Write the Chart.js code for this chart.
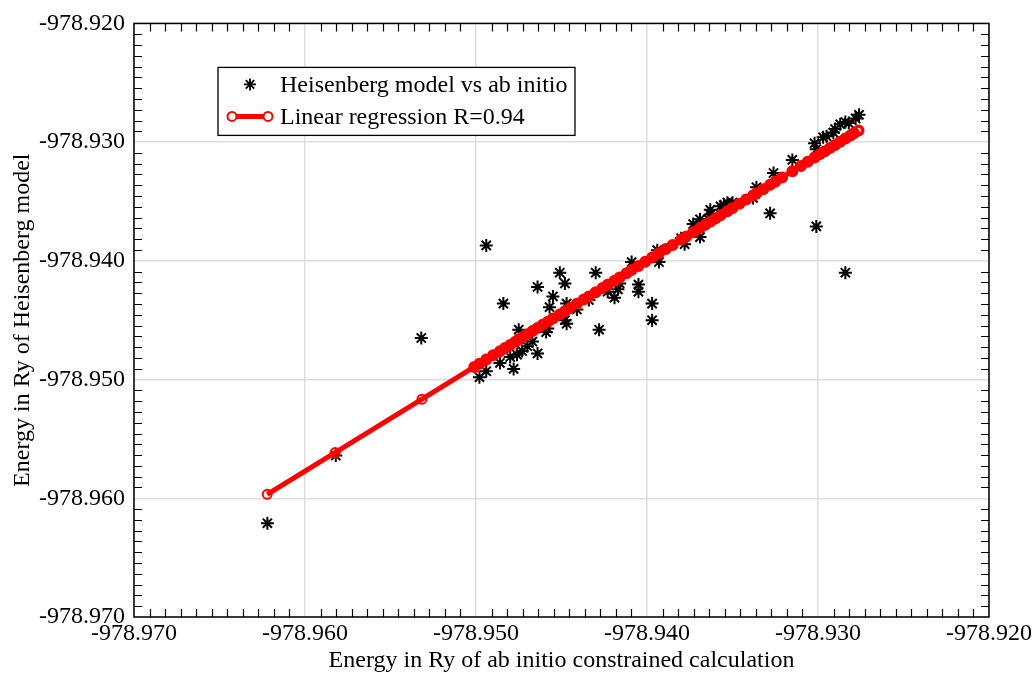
<!DOCTYPE html>
<html><head><meta charset="utf-8">
<script src="https://cdn.jsdelivr.net/npm/chart.js@4.4.1/dist/chart.umd.min.js"></script>
<style>html,body{margin:0;padding:0;background:#fff}#wrap{width:1035px;height:673px;position:relative}</style>
</head><body><div id="wrap"><canvas id="c" width="1035" height="673"></canvas></div>
<script>
// ---- data ----
const abInitio = [-978.9622,-978.9582,-978.9532,-978.9498,-978.9494,-978.9486,-978.9478,-978.9480,-978.9476,-978.9475,-978.9473,-978.9470,-978.9467,-978.9464,-978.9484,-978.9494,-978.9464,-978.9459,-978.9458,-978.9457,-978.9455,-978.9451,-978.9448,-978.9448,-978.9447,-978.9447,-978.9441,-978.9434,-978.9430,-978.9428,-978.9423,-978.9419,-978.9417,-978.9416,-978.9409,-978.9405,-978.9405,-978.9397,-978.9397,-978.9393,-978.9394,-978.9380,-978.9378,-978.9373,-978.9369,-978.9369,-978.9363,-978.9363,-978.9364,-978.9357,-978.9353,-978.9350,-978.9336,-978.9338,-978.9326,-978.9328,-978.9315,-978.9301,-978.9284,-978.9302,-978.9301,-978.9297,-978.9295,-978.9291,-978.9290,-978.9287,-978.9284,-978.9282,-978.9276,-978.9278,-978.9355];
const heisenberg = [-978.9621,-978.9564,-978.9465,-978.9498,-978.9493,-978.9486,-978.9491,-978.9481,-978.9479,-978.9458,-978.9476,-978.9472,-978.9468,-978.9478,-978.9436,-978.9387,-978.9422,-978.9460,-978.9457,-978.9439,-978.9430,-978.9410,-978.9419,-978.9450,-978.9436,-978.9453,-978.9441,-978.9433,-978.9410,-978.9458,-978.9426,-978.9431,-978.9424,-978.9419,-978.9401,-978.9420,-978.9426,-978.9436,-978.9450,-978.9401,-978.9391,-978.9381,-978.9386,-978.9369,-978.9380,-978.9365,-978.9357,-978.9361,-978.9365,-978.9354,-978.9351,-978.9351,-978.9338,-978.9347,-978.9326,-978.9360,-978.9315,-978.9371,-978.9410,-978.9301,-978.9306,-978.9296,-978.9295,-978.9292,-978.9289,-978.9285,-978.9283,-978.9284,-978.9277,-978.9280,-978.9353];
const fitX = [-978.96221,-978.95824,-978.95316,-978.9501,-978.9498,-978.9494,-978.9490,-978.9486,-978.9483,-978.9480,-978.9477,-978.9475,-978.9473,-978.9470,-978.9467,-978.9464,-978.9461,-978.9458,-978.9455,-978.9451,-978.9448,-978.9445,-978.9441,-978.9437,-978.9434,-978.9430,-978.9426,-978.9423,-978.9419,-978.9416,-978.9412,-978.9409,-978.9405,-978.9401,-978.9397,-978.9393,-978.9389,-978.9385,-978.9380,-978.9377,-978.9373,-978.9369,-978.9366,-978.9363,-978.9360,-978.9357,-978.9353,-978.9350,-978.9346,-978.9342,-978.9338,-978.9336,-978.9332,-978.9328,-978.9325,-978.9321,-978.9315,-978.9310,-978.9306,-978.9302,-978.9299,-978.9296,-978.9293,-978.9290,-978.9287,-978.9284,-978.9281,-978.9279,-978.92763];
const fitY = [-978.95967,-978.95615,-978.95165,-978.94894,-978.94867,-978.94832,-978.94796,-978.94761,-978.94734,-978.94708,-978.94681,-978.94663,-978.94646,-978.94619,-978.94592,-978.94566,-978.94539,-978.94513,-978.94486,-978.94451,-978.94424,-978.94397,-978.94362,-978.94326,-978.94300,-978.94264,-978.94229,-978.94202,-978.94167,-978.94140,-978.94105,-978.94078,-978.94043,-978.94007,-978.93972,-978.93937,-978.93901,-978.93866,-978.93821,-978.93795,-978.93759,-978.93724,-978.93697,-978.93671,-978.93644,-978.93617,-978.93582,-978.93555,-978.93520,-978.93484,-978.93449,-978.93431,-978.93396,-978.93360,-978.93334,-978.93298,-978.93245,-978.93201,-978.93165,-978.93130,-978.93103,-978.93077,-978.93050,-978.93024,-978.92997,-978.92970,-978.92944,-978.92926,-978.92902];
const xTicks = [-978.970,-978.960,-978.950,-978.940,-978.930,-978.920];
const yTicks = [-978.970,-978.960,-978.950,-978.940,-978.930,-978.920];
const seriesNames = ['Heisenberg model vs ab initio','Linear regression R=0.94'];
const xTitle = 'Energy in Ry of ab initio constrained calculation';
const yTitle = 'Energy in Ry of Heisenberg model';

// ---- styling ----
const FONT = 'Liberation Serif, Times New Roman, serif';
const RED = '#ff0000';
const MINOR = 11; // intervals between major ticks

const framePlugin = {
  id: 'frame',
  afterDraw(chart) {
    const ctx = chart.ctx, ca = chart.chartArea;
    const xs = chart.scales.x, ys = chart.scales.y;
    ctx.save();
    ctx.strokeStyle = '#000';
    ctx.lineWidth = 1.2;
    const L = 8;
    ctx.beginPath();
    for (let i = 0; i < xTicks.length - 1; i++) {
      const step = (xTicks[i+1] - xTicks[i]) / MINOR;
      for (let k = 1; k < MINOR; k++) {
        const px = Math.round(xs.getPixelForValue(xTicks[i] + k * step)) + 0.5;
        ctx.moveTo(px, ca.bottom); ctx.lineTo(px, ca.bottom - L);
        ctx.moveTo(px, ca.top); ctx.lineTo(px, ca.top + L);
      }
    }
    for (let i = 0; i < yTicks.length - 1; i++) {
      const step = (yTicks[i+1] - yTicks[i]) / MINOR;
      for (let k = 1; k < MINOR; k++) {
        const py = Math.round(ys.getPixelForValue(yTicks[i] + k * step)) + 0.5;
        ctx.moveTo(ca.left, py); ctx.lineTo(ca.left + L, py);
        ctx.moveTo(ca.right, py); ctx.lineTo(ca.right - L, py);
      }
    }
    ctx.stroke();
    ctx.lineWidth = 1.5;
    ctx.strokeRect(ca.left, ca.top, ca.right - ca.left, ca.bottom - ca.top);

    // legend box
    const bx = ca.left + 84, by = ca.top + 44, bw = 357, bh = 68;
    ctx.fillStyle = '#fff';
    ctx.fillRect(bx, by, bw, bh);
    ctx.lineWidth = 1.3;
    ctx.strokeStyle = '#000';
    ctx.strokeRect(bx, by, bw, bh);
    const r1 = by + 17, r2 = by + 49;
    // star sample
    const sx = bx + 32, sr = 6;
    ctx.beginPath();
    ctx.lineWidth = 1.8;
    ctx.moveTo(sx - sr, r1); ctx.lineTo(sx + sr, r1);
    ctx.moveTo(sx, r1 - sr); ctx.lineTo(sx, r1 + sr);
    const d = sr * Math.SQRT1_2;
    ctx.moveTo(sx - d, r1 - d); ctx.lineTo(sx + d, r1 + d);
    ctx.moveTo(sx - d, r1 + d); ctx.lineTo(sx + d, r1 - d);
    ctx.stroke();
    // line sample
    const l0 = bx + 14, l1 = bx + 50;
    ctx.strokeStyle = RED;
    ctx.lineWidth = 5;
    ctx.beginPath(); ctx.moveTo(l0, r2); ctx.lineTo(l1, r2); ctx.stroke();
    ctx.lineWidth = 2;
    ctx.fillStyle = '#fff';
    [l0, l1].forEach(cx => { ctx.beginPath(); ctx.arc(cx, r2, 4.5, 0, Math.PI * 2); ctx.fill(); ctx.stroke(); });
    ctx.fillStyle = '#000';
    ctx.font = '24px ' + FONT;
    ctx.textAlign = 'left';
    ctx.textBaseline = 'middle';
    ctx.fillText(seriesNames[0], bx + 62, r1 + 1);
    ctx.fillText(seriesNames[1], bx + 62, r2 + 1);
    ctx.restore();
  }
};

const scatterPts = abInitio.map((x, i) => ({x, y: heisenberg[i]}));
const fitPts = fitX.map((x, i) => ({x, y: fitY[i]}));

const tickFont = {family: FONT, size: 24};

new Chart(document.getElementById('c'), {
  type: 'scatter',
  data: {
    datasets: [
      {
        label: seriesNames[0], data: scatterPts, order: 1,
        pointStyle: 'star', pointRadius: 6.5, pointHoverRadius: 6.5,
        borderColor: '#000', backgroundColor: '#000', pointBorderWidth: 2, showLine: false
      },
      {
        label: seriesNames[1], data: fitPts, order: 0,
        showLine: true, borderColor: RED, borderWidth: 5, tension: 0,
        pointStyle: 'circle',
        pointRadius: c => (c.dataIndex < 3 ? 4.5 : 4.2),
        pointHoverRadius: 4.5,
        pointBorderColor: RED, pointBackgroundColor: 'rgba(255,255,255,0)',
        pointBorderWidth: c => (c.dataIndex < 3 ? 2 : 3.6)
      }
    ]
  },
  options: {
    responsive: false, animation: false, devicePixelRatio: 1,
    layout: {padding: {left: 0, top: 17, right: 46, bottom: 0}},
    plugins: {legend: {display: false}, tooltip: {enabled: false}},
    scales: {
      x: {
        type: 'linear', min: -978.970, max: -978.920,
        afterBuildTicks: s => { s.ticks = xTicks.map(v => ({value: v})); },
        afterFit: s => { s.height = 56; },
        ticks: {callback: v => Number(v).toFixed(3), font: tickFont, color: '#000', padding: 2, maxRotation: 0, autoSkip: false},
        grid: {color: '#dddddd', lineWidth: 1.5, drawTicks: false},
        border: {display: false},
        title: {display: true, text: xTitle, font: tickFont, color: '#000', padding: {top: 0, bottom: -2}}
      },
      y: {
        type: 'linear', min: -978.970, max: -978.920,
        afterBuildTicks: s => { s.ticks = yTicks.map(v => ({value: v})); },
        afterFit: s => { s.width = 134; },
        ticks: {callback: v => Number(v).toFixed(3), font: tickFont, color: '#000', padding: 9, autoSkip: false},
        grid: {color: '#dddddd', lineWidth: 1.5, drawTicks: false},
        border: {display: false},
        title: {display: true, text: yTitle, font: tickFont, color: '#000', padding: {top: 8, bottom: 0}}
      }
    }
  },
  plugins: [framePlugin]
});
</script></body></html>
